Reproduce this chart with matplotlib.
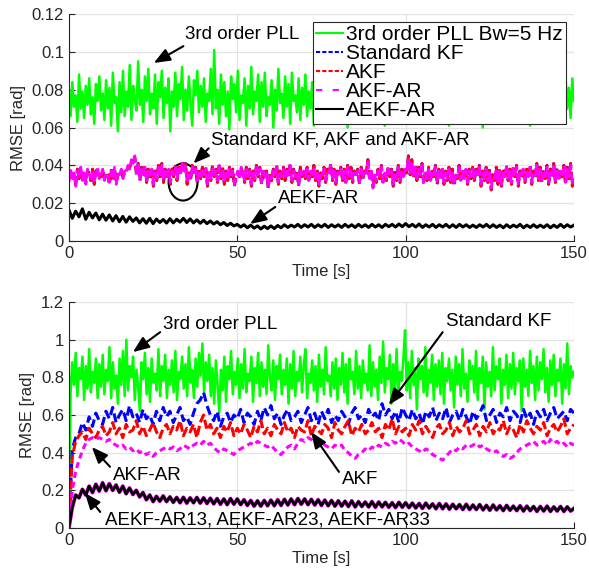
import numpy as np
import matplotlib
matplotlib.use("Agg")
import matplotlib.pyplot as plt
from matplotlib.patches import Ellipse
from matplotlib.ticker import FuncFormatter

plt.rcParams['font.family'] = ['Liberation Sans', 'DejaVu Sans']

# ---------------- data ----------------
T_END = 150
legend_labels = ["3rd order PLL Bw=5 Hz", "Standard KF", "AKF", "AKF-AR", "AEKF-AR"]

# top panel, units of 1e-3 rad (0.5 s step)
pll_top = [80,66,84,71,77,63,88,70,79,65,82,72,86,67,76,62,83,74,87,69,
           78,64,85,70,81,61,89,73,76,58,84,68,90,66,79,71,93,64,82,75,
           69,95,72,80,63,87,74,91,67,78,70,88,62,84,76,90,65,81,73,86,
           58,79,71,89,66,83,75,92,64,80,69,87,73,61,85,77,90,68,82,71,
           86,63,78,74,91,67,101,70,80,62,88,72,84,66,79,59,87,75,83,68,
           90,64,77,73,86,61,82,70,92,67,79,74,88,63,84,71,89,66,76,72,
           85,60,80,69,91,73,78,65,87,71,83,62,89,74,77,68,86,64,81,72,
           88,66,79,70,84,61,90,73,76,67,85,69,82,63,87,75,80,65,83,71,
           78,64,89,72,81,60,86,70,77,68,92,66,83,74,79,62,88,71,84,67,
           80,63,87,73,76,69,85,61,82,72,90,65,78,70,86,64,83,74,79,68,
           89,66,81,71,84,62,77,73,88,65,80,69,86,63,83,75,78,67,91,70,
           82,64,87,72,79,61,85,70,76,68,89,66,81,74,84,63,80,71,87,69,
           77,65,86,73,82,60,88,71,79,67,84,64,90,72,78,69,85,62,81,74,
           87,66,80,70,83,63,78,72,89,65,81,68,86,61,84,73,79,67,88,70,
           82,64,85,71,77,62,88,69,80,66,84,73,79,63,87,70,81,65,86,74]

akfar_top = [31,38,33,36,29,37,34,39,32,36,30,38,35,33,37,31,36,39,33,35,
             38,32,36,34,31,37,33,39,30,36,35,38,33,37,36,40,38,43,41,45,
             36,40,33,38,35,39,32,37,34,38,30,36,33,39,35,40,32,37,34,38,
             31,37,35,39,33,38,36,41,37,40,31,35,33,39,36,38,32,37,34,38,
             35,38,30,36,33,39,35,37,32,40,34,38,31,36,33,38,35,37,30,34,
             37,33,39,35,32,38,34,37,30,36,33,39,35,38,31,37,34,36,29,35,
             33,37,35,39,31,36,34,38,33,37,35,40,32,37,34,36,30,38,35,37,
             34,38,32,37,35,39,33,36,30,35,34,38,32,37,36,40,33,37,31,36,
             35,38,33,37,31,39,34,38,32,36,35,37,31,38,34,36,36,42,33,37,
             28,35,32,37,34,39,31,36,33,38,35,37,30,36,33,39,32,37,34,38,
             37,44,36,42,34,39,33,38,35,40,31,36,33,38,32,37,35,39,31,37,
             34,38,31,36,33,38,32,37,30,35,34,39,32,37,33,38,31,37,34,38,
             33,37,35,39,30,36,33,38,32,37,28,34,33,38,31,37,30,36,34,39,
             33,37,31,38,35,39,30,36,34,38,32,37,34,39,31,36,35,40,33,38,
             32,37,34,39,31,37,35,40,32,38,33,37,35,39,31,38,34,40,30,33]

akf_top = [33,37,34,35,30,38,33,38,33,35,31,37,36,32,38,30,37,38,34,34,
           37,33,35,35,30,38,32,38,31,35,36,37,34,36,37,39,39,42,42,44,
           35,41,32,39,34,40,31,38,33,39,29,37,32,40,34,41,31,38,33,39,
           30,38,34,40,32,39,35,42,36,41,30,36,32,40,35,39,31,38,33,39,
           34,39,29,37,32,40,34,38,31,41,33,39,30,37,32,39,34,38,29,35,
           36,34,38,36,31,39,33,38,29,37,32,40,34,39,30,38,33,37,28,36,
           32,38,34,40,30,37,33,39,32,38,34,41,31,38,33,37,29,39,34,38,
           33,39,31,38,34,40,32,37,29,36,33,39,31,38,35,41,32,38,30,37,
           34,39,32,38,30,40,33,39,31,37,34,38,30,39,33,37,35,43,32,38,
           29,34,31,38,33,40,30,37,32,39,34,38,29,37,32,40,31,38,33,39,
           36,45,35,43,33,40,32,39,34,41,30,37,32,39,31,38,34,40,30,38,
           33,39,30,37,32,39,31,38,29,36,33,40,31,38,32,39,30,38,33,39,
           32,38,34,40,29,37,32,39,31,38,27,35,32,39,30,38,29,37,33,40,
           32,38,30,39,34,40,29,37,33,39,31,38,33,40,30,37,34,41,32,39,
           31,38,33,40,30,38,34,41,31,39,32,38,34,40,30,39,33,41,29,34]

# Standard KF coincides with AKF in the top panel (fully hidden)
kf_top = list(akf_top)

# units of 1e-4 rad (1 s step)
aekf_top = [165,120,158,128,170,115,152,122,148,112, 142,110,138,106,134,102,130,100,128,104,
            122,96,118,94,120,92,116,98,114,95, 118,96,115,100,120,98,117,96,112,94,
            110,92,106,90,102,86,98,82,94,80, 88,74,86,70,84,68,80,64,78,66,
            80,66,82,70,86,72,84,74,88,72, 86,74,88,72,86,74,88,72,86,74,
            86,72,88,74,86,72,88,74,86,72, 88,74,86,72,88,76,88,74,90,76,
            92,76,88,74,90,72,86,74,88,72, 86,74,88,72,86,72,88,74,86,72,
            84,72,86,74,88,72,86,72,84,70, 86,72,84,74,88,70,84,72,86,72,
            84,72,86,70,84,72,88,72,86,74, 84]

# bottom panel, units of 1e-2 rad (green: 0.5 s step, others 1 s step)
pll_bot = [0,72,88,76,93,70,85,79,91,68,86,74,95,72,83,77,90,69,87,75,
           92,71,84,78,96,69,88,74,81,66,90,76,94,70,100,73,86,80,91,68,
           84,75,62,88,79,93,71,85,67,90,77,82,73,95,70,86,78,92,69,84,
           76,89,72,94,68,83,79,91,74,87,70,96,77,84,69,90,75,93,81,98,
           72,88,78,92,70,85,66,89,76,61,84,73,91,67,86,79,94,71,83,76,
           90,69,87,74,95,72,82,78,91,67,85,77,93,70,88,75,84,71,97,80,
           73,89,68,86,79,92,71,84,76,90,66,87,74,94,70,83,78,91,72,86,
           95,69,82,77,89,73,86,67,92,75,84,71,96,78,81,70,88,74,90,68,
           85,76,93,72,87,66,90,79,83,71,94,74,86,69,89,77,82,73,97,70,
           88,75,84,68,91,77,99,72,85,79,92,66,87,74,95,71,83,78,90,105,
           73,88,69,94,76,85,63,90,79,86,72,96,70,84,77,92,68,87,75,89,
           71,93,66,85,78,90,73,84,64,91,76,87,70,95,74,82,67,89,79,86,
           72,94,68,85,77,91,63,88,75,83,70,96,73,86,79,90,66,84,76,92,
           69,87,74,93,71,85,78,89,62,90,75,84,70,94,77,86,68,91,73,88,
           79,95,72,85,67,89,76,92,70,84,78,90,66,87,74,98,71,86,80,83]

kf_bot = [0,42,48,50,56,52,59,54,61,57, 55,62,58,64,56,60,63,57,65,59,
          61,56,63,58,60,55,62,57,64,59, 62,56,60,64,57,59,55,61,66,68,
          72,65,60,57,62,54,59,61,56,60, 58,63,56,61,59,55,62,57,64,60,
          65,58,61,55,60,63,57,59,62,56, 60,64,57,61,55,62,58,63,56,60,
          57,62,59,55,61,64,58,60,56,63, 59,61,57,66,60,63,58,62,56,64,
          60,57,63,58,61,55,62,59,64,57, 61,58,64,56,60,62,57,63,59,55,
          62,58,61,65,57,60,63,56,61,59, 64,57,62,60,56,63,58,61,55,62,
          59,63,57,61,64,58,60,62,57,63, 61]

akf_bot = [0,38,46,49,51,47,53,50,48,52, 54,49,51,56,50,53,48,55,51,52,
           57,50,54,49,52,56,51,48,53,55, 50,54,52,57,49,53,51,55,48,56,
           60,52,55,50,53,48,54,51,56,49, 53,50,55,52,48,54,51,57,50,53,
           49,55,52,50,56,51,53,48,54,52, 51,57,49,54,52,50,55,53,48,56,
           52,50,54,57,49,53,51,55,50,52, 56,51,53,48,55,52,58,50,54,51,
           53,49,55,52,57,50,54,51,48,53, 55,50,52,56,49,54,51,53,57,50,
           52,55,49,54,51,56,50,53,52,57, 50,54,52,48,55,51,57,53,50,54,
           52,56,49,53,55,51,54,58,50,53, 55]

akfar_bot = [0,20,30,36,41,45,47,48,47,48, 47,46,47,45,44,43,44,42,43,41,
             42,40,41,39,40,38,40,41,42,43, 42,43,41,42,44,43,42,44,45,44,
             46,44,45,43,41,40,42,41,40,39, 41,42,43,44,45,44,46,45,44,43,
             44,42,40,39,41,43,44,42,45,47, 46,48,47,45,44,45,44,43,42,44,
             43,44,41,40,38,37,39,40,42,41, 43,42,44,43,45,44,46,45,47,46,
             44,45,43,42,41,40,42,41,39,38, 37,36,38,40,42,41,43,42,44,43,
             44,45,43,44,42,41,40,41,39,38, 39,37,38,40,42,43,44,45,46,44,
             45,46,44,47,45,46,44,45,43,45, 44]

# units of 1e-3 rad
aekf_bot = [0,110,175,160,205,175,222,188,232,196, 240,198,235,200,228,190,222,182,212,178,
            200,165,188,150,175,140,168,142,170,140, 165,136,162,134,163,132,160,134,162,132,
            160,130,158,128,156,126,154,124,156,126, 154,124,150,120,146,116,144,116,146,118,
            148,118,150,120,152,122,154,124,156,126, 154,124,152,122,150,120,148,118,146,116,
            144,116,142,114,144,112,140,114,138,112, 140,110,138,112,136,110,134,108,136,110,
            134,108,132,106,130,104,132,106,128,102, 130,102,128,100,126,102,124,98,126,98,
            122,98,124,96,120,94,122,96,118,92, 120,94,116,92,118,90,116,92,114,88,
            114,90,116,88,112,90,114,88,112,90, 104]


def series(vals, scale):
    y = np.asarray(vals, dtype=float) * scale
    t = np.linspace(0, T_END, len(y))
    return t, y


GREEN = '#00ff00'
BLUE = '#0000ff'
RED = '#ff0000'
MAG = '#ff00ff'
BLACK = '#000000'

fig = plt.figure(figsize=(5.89, 5.69), dpi=100)
ax1 = fig.add_axes([0.117, 0.5764, 0.8575, 0.399])
ax2 = fig.add_axes([0.117, 0.0721, 0.8575, 0.3971])

FS_TICK = 12
FS_ANN = 13.5


def style(ax, ylim, yticks):
    ax.set_xlim(0, 150)
    ax.set_ylim(*ylim)
    ax.set_xticks([0, 50, 100, 150])
    ax.set_yticks(yticks)
    ax.yaxis.set_major_formatter(FuncFormatter(lambda v, p: '%g' % round(v, 4)))
    ax.grid(True, color='#e3e3e3', lw=0.9)
    ax.set_axisbelow(True)
    for s in ['top', 'right']:
        ax.spines[s].set_visible(False)
    for s in ['left', 'bottom']:
        ax.spines[s].set_color('#262626')
        ax.spines[s].set_linewidth(0.8)
    ax.tick_params(direction='in', length=4, labelsize=FS_TICK, colors='#262626',
                   labelcolor='#262626', top=False, right=False)
    ax.set_xlabel('Time [s]', fontsize=FS_TICK, color='#262626', labelpad=2)
    ax.set_ylabel('RMSE [rad]', fontsize=FS_TICK, color='#262626', labelpad=4)


def arrow(ax, tail, tip):
    ax.annotate('', xy=tip, xytext=tail,
                arrowprops=dict(arrowstyle='-|>,head_length=0.7,head_width=0.28',
                                color='black', lw=1.5, shrinkA=0, shrinkB=0,
                                mutation_scale=14))

# ---------------- top panel ----------------
t, y = series(pll_top, 1e-3)
ax1.plot(t, y, color=GREEN, lw=1.8)
t, y = series(kf_top, 1e-3)
ax1.plot(t, y, color=BLUE, lw=2, dashes=(3, 1.5))
t, y = series(akf_top, 1e-3)
ax1.plot(t, y, color=RED, lw=2, dashes=(3, 1.5))
t, y = series(akfar_top, 1e-3)
ax1.plot(t, y, color=MAG, lw=2, dashes=(4, 1.0))
t, y = series(aekf_top, 1e-4)
ax1.plot(t, y, color=BLACK, lw=2.2)
style(ax1, (0, 0.12), [0, 0.02, 0.04, 0.06, 0.08, 0.1, 0.12])

leg_handles = [
    plt.Line2D([], [], color=GREEN, lw=1.5),
    plt.Line2D([], [], color=BLUE, lw=1.5, dashes=(2, 1)),
    plt.Line2D([], [], color=RED, lw=1.5, dashes=(2, 1)),
    plt.Line2D([], [], color=MAG, lw=1.5, dashes=(3, 5)),
    plt.Line2D([], [], color=BLACK, lw=1.5),
]
leg = ax1.legend(leg_handles, legend_labels, loc='upper right', fontsize=15,
                 frameon=True, fancybox=False, framealpha=1, edgecolor='#262626',
                 handlelength=1.3, handletextpad=0.15, labelspacing=0.0,
                 borderpad=0.15, borderaxespad=0.4)
leg.get_frame().set_linewidth(0.8)

ax1.text(34.5, 0.1089, '3rd order PLL', fontsize=FS_ANN, va='center', ha='left')
arrow(ax1, (34.0, 0.1030), (25.2, 0.0941))
ax1.text(42.2, 0.0534, 'Standard KF, AKF and AKF-AR', fontsize=FS_ANN, va='center', ha='left')
arrow(ax1, (41.5, 0.0490), (37.0, 0.0410))
ax1.add_patch(Ellipse((33.9, 0.0312), 8.6, 0.0196, fill=False, ec='black', lw=1.5))
ax1.text(62.1, 0.0227, 'AEKF-AR', fontsize=FS_ANN, va='center', ha='left')
arrow(ax1, (61.3, 0.0180), (53.8, 0.0090))

# ---------------- bottom panel ----------------
t, y = series(pll_bot, 1e-2)
ax2.plot(t, y, color=GREEN, lw=1.8)
t, y = series(kf_bot, 1e-2)
ax2.plot(t, y, color=BLUE, lw=2.2, dashes=(3, 1.5))
t, y = series(akf_bot, 1e-2)
ax2.plot(t, y, color=RED, lw=2.2, dashes=(3, 1.2))
t, y = series(akfar_bot, 1e-2)
ax2.plot(t, y, color=MAG, lw=2.2, dashes=(2, 1.3))
t, y = series(aekf_bot, 1e-3)
ax2.plot(t, y, color=MAG, lw=2.8)
ax2.plot(t, y, color=BLACK, lw=2.0)
style(ax2, (0, 1.2), [0, 0.2, 0.4, 0.6, 0.8, 1.0, 1.2])

ax2.text(27.9, 1.078, '3rd order PLL', fontsize=FS_ANN, va='center', ha='left')
arrow(ax2, (27.1, 1.040), (19.0, 0.934))
ax2.text(112.0, 1.094, 'Standard KF', fontsize=FS_ANN, va='center', ha='left')
arrow(ax2, (111.0, 1.040), (95.0, 0.653))
ax2.text(81.1, 0.255, 'AKF', fontsize=FS_ANN, va='center', ha='left')
arrow(ax2, (80.2, 0.298), (71.9, 0.510))
ax2.text(13.1, 0.281, 'AKF-AR', fontsize=FS_ANN, va='center', ha='left')
arrow(ax2, (12.2, 0.325), (6.8, 0.430))
ax2.text(10.7, 0.042, 'AEKF-AR13, AEKF-AR23, AEKF-AR33', fontsize=FS_ANN, va='center', ha='left')
arrow(ax2, (9.3, 0.085), (4.75, 0.186))

fig.savefig('out.png', dpi=100)
